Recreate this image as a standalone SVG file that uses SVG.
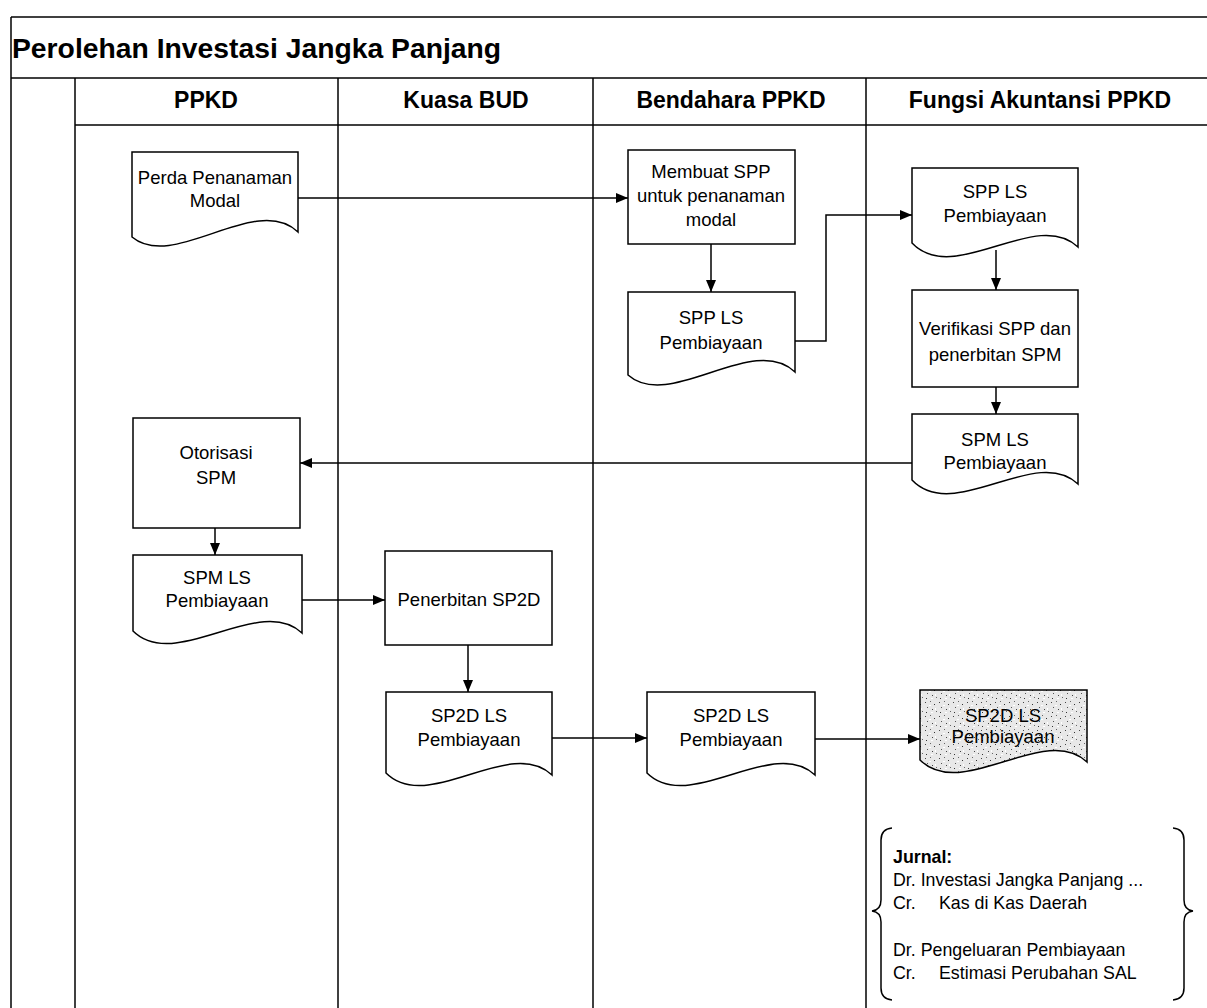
<svg xmlns="http://www.w3.org/2000/svg" width="1207" height="1008" viewBox="0 0 1207 1008">
<style>
.ln{stroke:#000;stroke-width:1.5;fill:none}
.box{stroke:#000;stroke-width:1.5;fill:#fff}
.t{font-family:"Liberation Sans",Arial,sans-serif;font-size:18.5px;fill:#000;text-anchor:middle}
.h{font-family:"Liberation Sans",Arial,sans-serif;font-size:23px;font-weight:bold;fill:#000;text-anchor:middle}
.j{font-family:"Liberation Sans",Arial,sans-serif;font-size:17.8px;fill:#000}
.c{stroke:#000;stroke-width:1.5;fill:none;marker-end:url(#arr)}
</style>
<defs>
<marker id="arr" viewBox="0 0 12 10" refX="12" refY="5" markerWidth="12" markerHeight="10" markerUnits="userSpaceOnUse" orient="auto">
<path d="M0,0 L12,5 L0,10 Z" fill="#000"/>
</marker>
<pattern id="stip" width="14" height="14" patternUnits="userSpaceOnUse">
<rect width="14" height="14" fill="#e8e8e8"/>
<rect x="1" y="2" width="1" height="1" fill="#444"/>
<rect x="6" y="1" width="1" height="1" fill="#666"/>
<rect x="10" y="4" width="1" height="1" fill="#333"/>
<rect x="3" y="7" width="1" height="1" fill="#555"/>
<rect x="8" y="9" width="1" height="1" fill="#444"/>
<rect x="12" y="11" width="1" height="1" fill="#666"/>
<rect x="2" y="12" width="1" height="1" fill="#333"/>
<rect x="5" y="5" width="2" height="1" fill="#fff"/>
<rect x="11" y="8" width="1" height="2" fill="#fff"/>
<rect x="7" y="12" width="2" height="1" fill="#fff"/>
</pattern>
</defs>

<g id="frame">
<line class="ln" x1="11" y1="17" x2="1207" y2="17"/>
<line class="ln" x1="11" y1="17" x2="11" y2="1008"/>
<line class="ln" x1="11" y1="78" x2="1207" y2="78"/>
<line class="ln" x1="75" y1="125" x2="1207" y2="125"/>
<line class="ln" x1="75" y1="78" x2="75" y2="1008"/>
<line class="ln" x1="338" y1="78" x2="338" y2="1008"/>
<line class="ln" x1="593" y1="78" x2="593" y2="1008"/>
<line class="ln" x1="866" y1="78" x2="866" y2="1008"/>
<text x="12" y="58" font-family="Liberation Sans, Arial, sans-serif" font-size="28.3" font-weight="bold">Perolehan Investasi Jangka Panjang</text>
<text class="h" x="206" y="108">PPKD</text>
<text class="h" x="466" y="108">Kuasa BUD</text>
<text class="h" x="731" y="108">Bendahara PPKD</text>
<text class="h" x="1040" y="108">Fungsi Akuntansi PPKD</text>
</g>

<g id="connectors">
<path class="c" d="M298,198 H628"/>
<path class="c" d="M711,244 V292"/>
<path class="c" d="M795,341 H826 V215 H912"/>
<path class="c" d="M996,250 V290"/>
<path class="c" d="M996,387 V414"/>
<path class="c" d="M912,463 H300"/>
<path class="c" d="M215,528 V555"/>
<path class="c" d="M302,600 H385"/>
<path class="c" d="M468,645 V692"/>
<path class="c" d="M552,738 H647"/>
<path class="c" d="M815,739 H920"/>
</g>

<g id="perda">
<path class="box" d="M132,152 H298 V232 C256,192 174,272 132,237 Z"/>
<text class="t" x="215" y="184">Perda Penanaman</text>
<text class="t" x="215" y="207">Modal</text>
</g>

<g id="membuat-spp">
<rect class="box" x="628" y="150" width="167" height="94"/>
<text class="t" x="711" y="178">Membuat SPP</text>
<text class="t" x="711" y="202">untuk penanaman</text>
<text class="t" x="711" y="226">modal</text>
</g>

<g id="spp-ls-bendahara">
<path class="box" d="M628,292 H795 V372 C753,332 670,412 628,375 Z"/>
<text class="t" x="711" y="324">SPP LS</text>
<text class="t" x="711" y="349">Pembiayaan</text>
</g>

<g id="spp-ls-fungsi">
<path class="box" d="M912,168 H1078 V247 C1036,207 954,287 912,243 Z"/>
<text class="t" x="995" y="198">SPP LS</text>
<text class="t" x="995" y="222">Pembiayaan</text>
</g>

<g id="verifikasi">
<rect class="box" x="912" y="290" width="166" height="97"/>
<text class="t" x="995" y="335">Verifikasi SPP dan</text>
<text class="t" x="995" y="361">penerbitan SPM</text>
</g>

<g id="spm-ls-fungsi">
<path class="box" d="M912,414 H1078 V484 C1036,444 954,524 912,480 Z"/>
<text class="t" x="995" y="446">SPM LS</text>
<text class="t" x="995" y="469">Pembiayaan</text>
</g>

<g id="otorisasi">
<rect class="box" x="133" y="418" width="167" height="110"/>
<text class="t" x="216" y="459">Otorisasi</text>
<text class="t" x="216" y="484">SPM</text>
</g>

<g id="spm-ls-ppkd">
<path class="box" d="M133,555 H302 V633 C260,593 175,673 133,631 Z"/>
<text class="t" x="217" y="584">SPM LS</text>
<text class="t" x="217" y="607">Pembiayaan</text>
</g>

<g id="penerbitan">
<rect class="box" x="385" y="551" width="167" height="94"/>
<text class="t" x="469" y="606">Penerbitan SP2D</text>
</g>

<g id="sp2d-ls-kbud">
<path class="box" d="M386,692 H552 V775 C510,735 428,815 386,773 Z"/>
<text class="t" x="469" y="722">SP2D LS</text>
<text class="t" x="469" y="746">Pembiayaan</text>
</g>

<g id="sp2d-ls-bendahara">
<path class="box" d="M647,692 H815 V775 C773,735 689,815 647,773 Z"/>
<text class="t" x="731" y="722">SP2D LS</text>
<text class="t" x="731" y="746">Pembiayaan</text>
</g>

<g id="sp2d-ls-arsip">
<path d="M920,690 H1087 V762 C1045,722 962,802 920,760 Z" fill="url(#stip)" stroke="#000" stroke-width="1.5"/>
<text class="t" x="1003" y="722">SP2D LS</text>
<text class="t" x="1003" y="743">Pembiayaan</text>
</g>

<g id="jurnal">
<path class="ln" d="M892,828 Q881,829 881,840 V900 Q881,910 872,911 Q881,912 881,922 V988 Q881,999 892,1000"/>
<path class="ln" d="M1173,828 Q1184,829 1184,840 V900 Q1184,910 1193,911 Q1184,912 1184,922 V988 Q1184,999 1173,1000"/>
<text class="j" x="893" y="863" font-weight="bold">Jurnal:</text>
<text class="j" x="893" y="886">Dr. Investasi Jangka Panjang ...</text>
<text class="j" x="893" y="909">Cr.</text>
<text class="j" x="939" y="909">Kas di Kas Daerah</text>
<text class="j" x="893" y="956">Dr. Pengeluaran Pembiayaan</text>
<text class="j" x="893" y="979">Cr.</text>
<text class="j" x="939" y="979">Estimasi Perubahan SAL</text>
</g>
</svg>
